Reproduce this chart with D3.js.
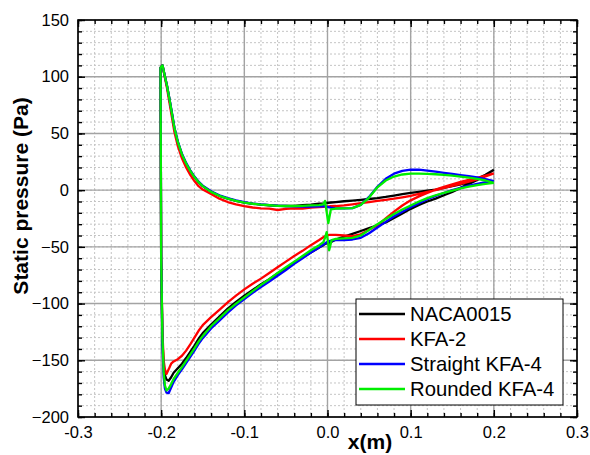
<!DOCTYPE html>
<html><head><meta charset="utf-8">
<script src="https://cdn.jsdelivr.net/npm/d3@7"></script>
<style>body{margin:0;background:#fff}svg{display:block}text{font-family:"Liberation Sans",Arial,sans-serif}</style>
</head><body><svg id="c" width="590" height="455"></svg>
<script>
// ---- data ----
const xTicks = [-0.3,-0.2,-0.1,0.0,0.1,0.2,0.3];
const xTickLabels = ["-0.3","-0.2","-0.1","0.0","0.1","0.2","0.3"];
const yTicks = [-200,-150,-100,-50,0,50,100,150];
const seriesNames = ["NACA0015","KFA-2","Straight KFA-4","Rounded KFA-4"];
const seriesColors = ["#000000","#ff0000","#0000ff","#00ee00"];

// upper (stagnation-side) branch, leading edge -> trailing edge
const xUpper = [-0.1984,-0.196,-0.193,-0.19,-0.187,-0.184,-0.18,-0.175,-0.17,-0.165,-0.16,-0.155,-0.15,-0.14,-0.13,-0.12,-0.11,-0.1,-0.09,-0.08,-0.07,-0.06,-0.05,-0.04,-0.03,-0.02,-0.01,-0.005,-0.003,0.001,0.004,0.01,0.02,0.03,0.04,0.05,0.06,0.07,0.08,0.09,0.1,0.11,0.12,0.13,0.14,0.15,0.16,0.17,0.18,0.19,0.2];
const nacaUpper = [110,102,92,80,67,54,42,31,23,17,11.5,7,3.5,-1.5,-5,-7.5,-9.5,-11,-12,-12.8,-13.3,-13.8,-14,-13.8,-13.3,-12.8,-12,-11.6,-11.4,-11.1,-10.9,-10.5,-9.8,-9.2,-8.5,-7.8,-7,-6,-4.8,-3.5,-2.5,-1.5,-0.5,0.5,2,3.5,5,7,10,13.5,18];
const kfa2Upper = [110,101,90,77,64,51,39,28,20,13.5,8,3.5,0.5,-3.5,-7.5,-10.5,-12.5,-14,-15.3,-16,-16.3,-17.5,-16.5,-16,-16.2,-15.5,-15,-14.8,-14.6,-14.4,-14.2,-14,-13.5,-12.5,-11.5,-10.5,-9.5,-8.5,-7.5,-6.3,-5,-3.3,-1.5,0,2,3.8,5.5,7.5,9.5,12,14.7];
const straightUpper = [110,102,92,80.5,68,55,43,32,24,17.5,12,7.5,4,-1,-4.5,-7,-9,-10.5,-11.8,-12.6,-13.2,-13.7,-14,-14.3,-14.5,-14.5,-14.3,-14.2,-14.4,-15,-15.5,-16,-16,-15.8,-13,-6,3,10,14.5,17,18,18,17.3,16.3,15.3,14.3,13.3,12.3,11.2,9.8,8];
const roundedUpper = [110,102,92,80,67.5,54.5,42.5,31.5,23.5,17,11.5,7,3.5,-1.5,-5,-7.5,-9.5,-11,-12,-12.8,-13.3,-13.8,-14,-14,-13.8,-13.5,-13.2,-12.5,-9.5,-29,-17,-16.2,-16,-15.8,-13,-6.5,2.5,8.5,12,13.8,14.5,14.6,14.4,14,13.5,12.8,12,11,10,8.5,6.5];

// lower (suction-side) branch, leading edge -> trailing edge
const xLower = [-0.2008,-0.2005,-0.2,-0.1985,-0.197,-0.1955,-0.1936,-0.191,-0.188,-0.185,-0.18,-0.175,-0.17,-0.165,-0.16,-0.155,-0.15,-0.14,-0.13,-0.12,-0.11,-0.1,-0.09,-0.08,-0.07,-0.06,-0.05,-0.04,-0.03,-0.02,-0.01,-0.005,-0.003,-0.001,0.002,0.005,0.01,0.02,0.03,0.04,0.05,0.06,0.07,0.08,0.09,0.1,0.11,0.12,0.13,0.14,0.15,0.16,0.17,0.18,0.19,0.2];
const nacaLower = [108,50,-60,-130,-155,-163,-167,-168,-165,-161,-157,-153,-148,-142.5,-137,-131,-126,-118.5,-111.5,-104.5,-98.5,-93,-88,-83,-78.5,-73.5,-69,-64,-59.5,-55,-50.5,-48.5,-47.5,-47,-46.5,-45.5,-43.5,-41,-38.5,-36,-33.5,-31,-28.5,-24.5,-20.5,-16.5,-13,-10,-7.5,-4.5,-1.5,2,5.5,9,13,18];
const kfa2Lower = [108,50,-60,-125,-150,-158,-162,-158,-153,-151,-149,-146,-141.5,-136,-130,-124,-119,-112,-105.5,-99,-93,-87.5,-82.5,-78,-73,-68,-63,-58,-53.5,-48.5,-44,-41.5,-40.5,-40,-39.5,-39.5,-39.5,-40,-40.5,-39,-35,-31,-25,-19,-13.5,-9,-5.5,-2.5,0.5,3,5.2,7.2,9,10.8,12.7,14.7];
const straightLower = [108,50,-60,-135,-165,-175,-178.5,-179,-174,-169,-163,-158,-152.5,-147,-141.5,-135.5,-130.5,-122,-115,-108,-101.5,-96,-90.5,-85.5,-80.5,-75.5,-70.5,-65,-60,-55,-50.5,-48,-47,-46,-45,-44.5,-44,-44,-43.5,-42,-38,-33,-28,-23,-19,-15,-11.5,-8,-5,-2.5,0,2,4,5.5,7,8];
const roundedLower = [108,50,-60,-130,-160,-172,-176.5,-175,-171,-166.5,-161,-156,-150.5,-145,-139.5,-133.5,-128.5,-120,-113,-106,-100,-94.5,-89,-83.5,-78.5,-73,-68,-63,-58,-53,-48.5,-46,-42,-37,-53,-44,-43,-42.5,-42,-40,-35,-30,-25.5,-21,-17,-13.5,-10,-7,-4.5,-2.5,-0.5,1.5,3,4.5,5.5,6.5];

const uppers = [nacaUpper,kfa2Upper,straightUpper,roundedUpper];
const lowers = [nacaLower,kfa2Lower,straightLower,roundedLower];

// ---- chart ----
const svg = d3.select("#c");
const L=78,R=577,T=20,B=417;
const x = d3.scaleLinear().domain([-0.3,0.3]).range([L,R]);
const y = d3.scaleLinear().domain([-200,150]).range([B,T]);
const xMinor = d3.range(-0.3,0.3001,0.02);
const yMinor = d3.range(-200,150.1,10);

// minor grid
const g = svg.append("g");
g.selectAll(".mx").data(xMinor).join("line")
  .attr("x1",d=>x(d)).attr("x2",d=>x(d)).attr("y1",T).attr("y2",B)
  .attr("stroke","#c4c4c4").attr("stroke-width",1).attr("stroke-dasharray","2,2");
g.selectAll(".my").data(yMinor).join("line")
  .attr("y1",d=>y(d)).attr("y2",d=>y(d)).attr("x1",L).attr("x2",R)
  .attr("stroke","#c4c4c4").attr("stroke-width",1).attr("stroke-dasharray","2,2");
// major grid
g.selectAll(".Mx").data(xTicks).join("line")
  .attr("x1",d=>x(d)).attr("x2",d=>x(d)).attr("y1",T).attr("y2",B)
  .attr("stroke","#a3a3a3").attr("stroke-width",1.4);
g.selectAll(".My").data(yTicks).join("line")
  .attr("y1",d=>y(d)).attr("y2",d=>y(d)).attr("x1",L).attr("x2",R)
  .attr("stroke","#a3a3a3").attr("stroke-width",1.4);

// series
const line = d3.line().x(d=>x(d[0])).y(d=>y(d[1]));
seriesNames.forEach((n,i)=>{
  const pts = xUpper.map((xv,j)=>[xv,uppers[i][j]]).reverse()
    .concat(xLower.map((xv,j)=>[xv,lowers[i][j]]));
  svg.append("path").datum(pts).attr("d",line)
    .attr("fill","none").attr("stroke",seriesColors[i]).attr("stroke-width",2.3)
    .attr("stroke-linejoin","round");
});

// axes (inward ticks)
function styleAxis(sel){ sel.select(".domain").remove(); sel.selectAll("line").attr("stroke","#000").attr("stroke-width",1.4);
  sel.selectAll("text").attr("font-size","16.5px").attr("fill","#000").style("font-family","'Liberation Sans',Arial,sans-serif"); }
const fmtX = d=>xTickLabels[xTicks.findIndex(t=>Math.abs(t-d)<1e-9)];
svg.append("g").attr("transform",`translate(0,${B})`)
  .call(d3.axisBottom(x).tickValues(xTicks).tickFormat(fmtX).tickSize(-7).tickPadding(9)).call(styleAxis);
svg.append("g").attr("transform",`translate(0,${B})`)
  .call(d3.axisBottom(x).tickValues(xMinor).tickFormat("").tickSize(-4)).call(styleAxis);
svg.append("g").attr("transform",`translate(0,${T})`)
  .call(d3.axisTop(x).tickValues(xTicks).tickFormat("").tickSize(-7)).call(styleAxis);
svg.append("g").attr("transform",`translate(0,${T})`)
  .call(d3.axisTop(x).tickValues(xMinor).tickFormat("").tickSize(-4)).call(styleAxis);
svg.append("g").attr("transform",`translate(${L},0)`)
  .call(d3.axisLeft(y).tickValues(yTicks).tickFormat(d3.format("d")).tickSize(-7).tickPadding(9)).call(styleAxis);
svg.append("g").attr("transform",`translate(${L},0)`)
  .call(d3.axisLeft(y).tickValues(yMinor).tickFormat("").tickSize(-4)).call(styleAxis);
svg.append("g").attr("transform",`translate(${R},0)`)
  .call(d3.axisRight(y).tickValues(yTicks).tickFormat("").tickSize(-7)).call(styleAxis);
svg.append("g").attr("transform",`translate(${R},0)`)
  .call(d3.axisRight(y).tickValues(yMinor).tickFormat("").tickSize(-4)).call(styleAxis);

// frame
svg.append("rect").attr("x",L).attr("y",T).attr("width",R-L).attr("height",B-T)
  .attr("fill","none").attr("stroke","#000").attr("stroke-width",1.6);

// axis titles
svg.append("text").attr("x",370).attr("y",449).attr("text-anchor","middle")
  .attr("font-size","21px").attr("font-weight","bold").text("x(m)");
svg.append("text").attr("transform","translate(28,196) rotate(-90)").attr("text-anchor","middle")
  .attr("font-size","21px").attr("font-weight","bold").text("Static pressure (Pa)");

// legend
const lg = svg.append("g");
lg.append("rect").attr("x",356).attr("y",299).attr("width",207).attr("height",106)
  .attr("fill","#fff").attr("stroke","#000").attr("stroke-width",1);
seriesNames.forEach((n,i)=>{
  const cy = 314 + i*25;
  lg.append("line").attr("x1",359).attr("x2",405).attr("y1",cy).attr("y2",cy)
    .attr("stroke",seriesColors[i]).attr("stroke-width",2.3);
  lg.append("text").attr("x",410).attr("y",cy).attr("dy","0.36em")
    .attr("font-size","20.3px").attr("fill","#000").text(n);
});
</script></body></html>
